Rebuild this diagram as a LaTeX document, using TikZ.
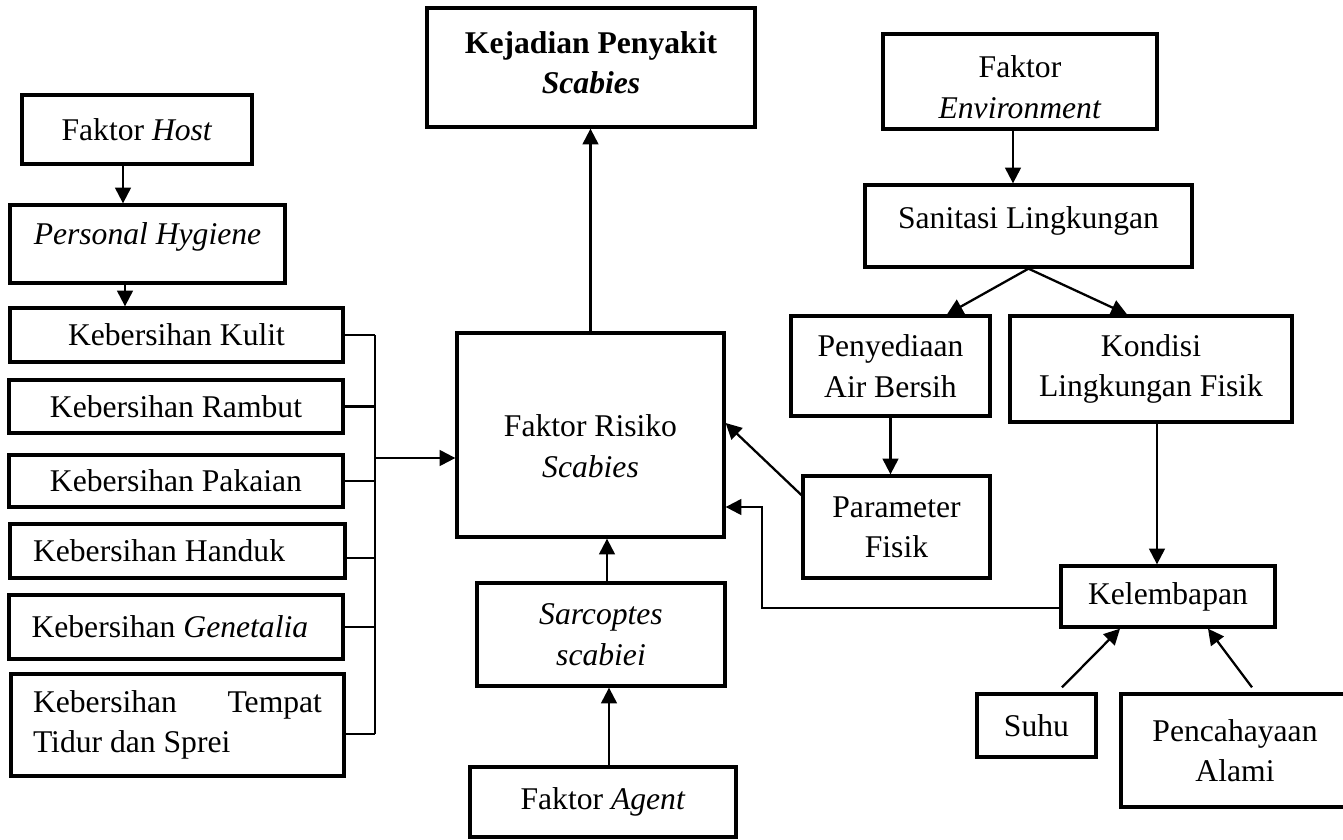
\documentclass[tikz,border=0pt]{standalone}
\usepackage{fontspec}
\setmainfont{Liberation Serif}
\usetikzlibrary{arrows.meta,calc}

\begin{document}
\begin{tikzpicture}[x=0.02cm,y=-0.02cm,
        font=\fontsize{18}{23}\selectfont,
        box/.style={draw,line width=1.9pt,align=center,inner sep=2pt},
        lbox/.style={draw,line width=1.9pt,align=flush left,text width=5.78cm,inner xsep=0.44cm},
        arr/.style={line width=1.3pt,-{Triangle[length=9pt,width=9pt]}},
        link/.style={line width=1.2pt}]
        \useasboundingbox (0,0) rectangle (1343,839);

        % host side
        \node[box,minimum width=4.6cm,minimum height=1.38cm] (host) at (137,129.5) {Faktor \textit{Host}};
        \node[box,minimum width=5.5cm,minimum height=1.56cm] (hygiene) at (147.5,244) {\textit{Personal Hygiene}\rule[-11.7pt]{0pt}{1pt}};
        \node[box,minimum width=6.66cm,minimum height=1.08cm] (kulit) at (176.5,335) {Kebersihan Kulit};
        \node[box,minimum width=6.68cm,minimum height=1.06cm] (rambut) at (176,406.5) {Kebersihan Rambut};
        \node[box,minimum width=6.68cm,minimum height=1.04cm] (pakaian) at (176,481) {Kebersihan Pakaian};
        \node[lbox,minimum width=6.7cm,minimum height=1.08cm] (handuk) at (177.5,551) {Kebersihan Handuk};
        \node[lbox,minimum width=6.68cm,minimum height=1.28cm] (genetalia) at (176,627) {Kebersihan \textit{Genetalia}};
        \node[lbox,minimum width=6.62cm,minimum height=2.04cm] (tempat) at (177.5,725) {Kebersihan \hfill Tempat\\Tidur dan Sprei};

        % middle
        \node[box,minimum width=6.56cm,minimum height=2.38cm] (kejadian) at (591,67.5) {\textbf{Kejadian Penyakit}\\\textbf{\textit{Scabies}}\rule[-6pt]{0pt}{1pt}};
        \node[box,minimum width=5.34cm,minimum height=4.08cm] (risiko) at (590.5,435) {\rule{0pt}{25.3pt}Faktor Risiko\\\textit{Scabies}};
        \node[box,minimum width=4.96cm,minimum height=2.06cm] (sarcoptes) at (601,634.5) {\textit{Sarcoptes}\\\textit{scabiei}};
        \node[box,minimum width=5.32cm,minimum height=1.4cm] (agent) at (603,802) {Faktor \textit{Agent}};

        % environment side
        \node[box,minimum width=5.48cm,minimum height=1.9cm] (env) at (1020,81.5) {\rule{0pt}{19pt}Faktor\\\textit{Environment}};
        \node[box,minimum width=6.54cm,minimum height=1.64cm] (sanitasi) at (1028.5,226) {Sanitasi Lingkungan\rule[-9.9pt]{0pt}{1pt}};
        \node[box,minimum width=3.98cm,minimum height=2cm] (air) at (890.5,366) {Penyediaan\\Air Bersih};
        \node[box,minimum width=5.64cm,minimum height=2.12cm] (kondisi) at (1151,369) {Kondisi\\Lingkungan Fisik};
        \node[box,minimum width=3.74cm,minimum height=2.04cm] (parameter) at (896.5,527) {Parameter\\Fisik};
        \node[box,minimum width=4.28cm,minimum height=1.22cm] (lembap) at (1168,596.5) {Kelembapan};
        \node[box,minimum width=2.38cm,minimum height=1.26cm] (suhu) at (1036.5,725.5) {Suhu};
        \node[box,minimum width=4.98cm,minimum height=2.26cm] (cahaya) at (1245.5,750.5) {\hspace*{-0.42cm}Pencahayaan\\\hspace*{-0.42cm}Alami};

        % host arrows
        \coordinate (h1) at ([xshift=-0.28cm]host.south);
        \draw[arr] (h1) -- (h1 |- hygiene.north);
        \coordinate (h2) at ([xshift=-0.45cm]hygiene.south);
        \draw[arr] (h2) -- (h2 |- kulit.north);

        % bus to risk factor
        \coordinate (bus) at (375,458);
        \foreach \k in {kulit,rambut,pakaian,genetalia}
            \draw[link] (\k.east) -- (\k.east -| bus);
        \coordinate (hd) at ([yshift=-0.14cm]handuk.east);
        \draw[link] (hd) -- (hd -| bus);
        \coordinate (tt) at ([yshift=-0.18cm]tempat.east);
        \draw[link] (tt) -- (tt -| bus);
        \draw[link] (kulit.east -| bus) -- (tt -| bus);
        \draw[arr] (bus) -- (bus -| risiko.west);

        % middle arrows
        \draw[arr] (risiko.north) -- (risiko.north |- kejadian.south);
        \coordinate (s1) at ([xshift=0.12cm]sarcoptes.north);
        \draw[arr] (s1) -- (s1 |- risiko.south);
        \coordinate (a1) at ([xshift=0.12cm]agent.north);
        \draw[arr] (a1) -- (a1 |- sarcoptes.south);

        % environment arrows
        \coordinate (e1) at ([xshift=-0.14cm]env.south);
        \draw[arr] (e1) -- (e1 |- sanitasi.north);
        \draw[arr] (sanitasi.south) -- ([xshift=1.13cm]air.north);
        \draw[arr] (sanitasi.south) -- ([xshift=-0.48cm]kondisi.north);
        \draw[arr] (air.south) -- (air.south |- parameter.north);
        \draw[arr] ([yshift=0.64cm]parameter.west) -- ([yshift=0.24cm]risiko.east);
        \coordinate (k1) at ([xshift=0.12cm]kondisi.south);
        \draw[arr] (k1) -- (k1 |- lembap.north);
        \coordinate (tekuk) at (762,507);
        \draw[arr] ([yshift=-0.23cm]lembap.west) -| (tekuk) -- (tekuk -| risiko.east);
        \draw[arr] ([xshift=0.51cm,yshift=0.1cm]suhu.north) -- ([xshift=-0.96cm]lembap.south);
        \draw[arr] ([xshift=0.13cm,yshift=0.1cm]cahaya.north) -- ([xshift=0.8cm]lembap.south);

\end{tikzpicture}
\end{document}
